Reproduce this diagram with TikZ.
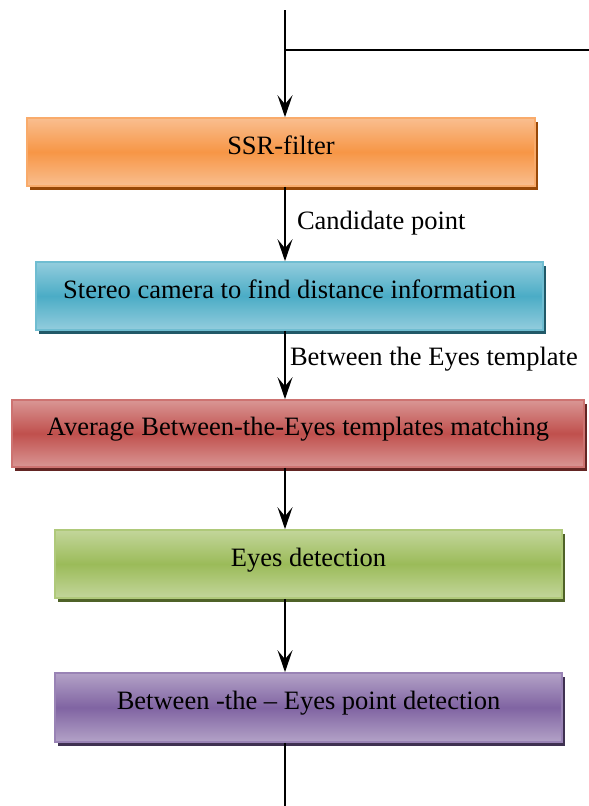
\documentclass[tikz,border=0pt]{standalone}
\usepackage{fontspec}
\setmainfont{Liberation Serif}
\usetikzlibrary{arrows.meta,shadows}
\definecolor{orM}{HTML}{F79646}\definecolor{orL}{HTML}{F9BE8F}\definecolor{orD}{HTML}{984807}
\definecolor{blM}{HTML}{4BACC6}\definecolor{blL}{HTML}{93CDDD}\definecolor{blD}{HTML}{215968}
\definecolor{reM}{HTML}{C0504D}\definecolor{reL}{HTML}{D99694}\definecolor{reD}{HTML}{632523}
\definecolor{grM}{HTML}{9BBB59}\definecolor{grL}{HTML}{C3D69B}\definecolor{grD}{HTML}{4F6228}
\definecolor{puM}{HTML}{8064A2}\definecolor{puL}{HTML}{B3A2C7}\definecolor{puD}{HTML}{3F3151}
\tikzset{
  box/.style n args={3}{draw=#1!80!white, line width=1.6pt, top color=#2, bottom color=#2, middle color=#1,
     general shadow={fill=#3, shadow xshift=3pt, shadow yshift=-4pt},
     minimum height=68pt, inner sep=0pt, text depth=14pt, font=\fontsize{26.5}{30}\selectfont},
  conn/.style={line width=2pt, -{Stealth[length=22pt,width=15pt,inset=9pt]}},
  plain/.style={line width=2pt},
  lbl/.style={font=\fontsize{26.5}{30}\selectfont, anchor=west, inner sep=0pt}
}
\begin{document}
\begin{tikzpicture}[x=1pt,y=-1pt]
\useasboundingbox (0,0) rectangle (589,806);
\coordinate (top) at (285,10);
\coordinate (bot) at (285,806);
\coordinate (right) at (589,50);
\node[box={orM}{orL}{orD}, minimum width=508pt] (ssr) at (281,152) {SSR-filter};
\node[box={blM}{blL}{blD}, minimum width=507pt] (stereo) at (289.5,296) {Stereo camera to find distance information};
\node[box={reM}{reL}{reD}, minimum width=572pt, minimum height=67pt] (avg) at (298,433.5) {Average Between-the-Eyes templates matching};
\node[box={grM}{grL}{grD}, minimum width=507pt] (eyes) at (308.5,564) {Eyes detection};
\node[box={puM}{puL}{puD}, minimum width=507pt, minimum height=69pt] (btw) at (308.5,707.5) {Between -the – Eyes point detection};
\draw[conn] (top) -- (ssr.north -| top);
\draw[plain] (top |- right) -- (right);
\draw[conn] (ssr.south -| top) -- node[lbl, xshift=11pt, yshift=1pt] (c1) {Candidate point} (stereo.north -| top);
\draw[conn] (stereo.south -| top) -- node[lbl, xshift=4pt, yshift=6pt] (c2) {Between the Eyes template} (avg.north -| top);
\draw[conn] (avg.south -| top) -- (eyes.north -| top);
\draw[conn] (eyes.south -| top) -- (btw.north -| top);
\draw[plain] (btw.south -| top) -- (bot);
\end{tikzpicture}
\end{document}
